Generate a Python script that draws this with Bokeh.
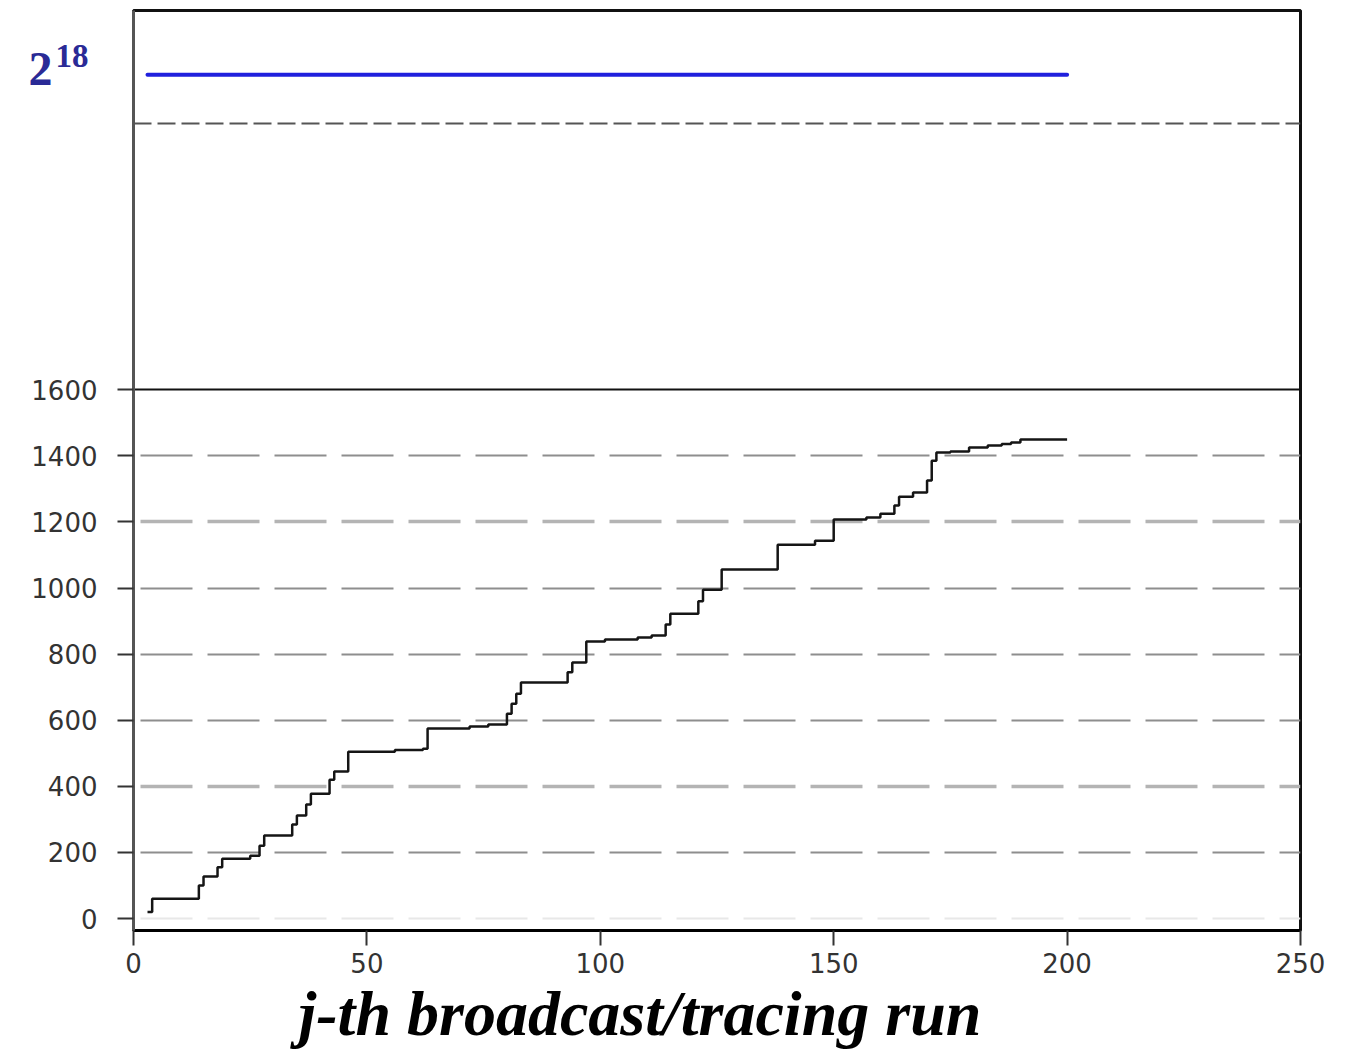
import math
from bokeh.plotting import figure
from bokeh.models import Range1d, FixedTicker, Grid, Title, LinearAxis
from bokeh.embed import file_html
from bokeh.resources import INLINE

# ---------------- data ----------------
# j-th broadcast/tracing run (step change points) and cumulative value
runs = [3, 4, 14, 15, 18, 19, 25, 27, 28, 34, 35, 37, 38, 42, 43, 46, 56, 62, 63,
        72, 76, 80, 81, 82, 83, 93, 94, 97, 101, 108, 111, 114, 115, 121, 122,
        126, 138, 146, 150, 157, 160, 163, 164, 167, 170, 171, 172, 175, 179,
        183, 186, 188, 190, 200]
values = [20, 60, 100, 127, 155, 181, 190, 220, 251, 285, 312, 345, 378, 420, 445,
          505, 510, 514, 575, 581, 587, 620, 650, 680, 714, 745, 775, 838, 844,
          850, 856, 890, 922, 960, 995, 1056, 1131, 1143, 1207, 1213, 1225, 1250,
          1276, 1289, 1325, 1385, 1410, 1413, 1425, 1431, 1436, 1440, 1449, 1449]

# upper bound series (2^18), drawn in the broken upper band of the axis
bound_runs = [3, 200]
bound_values = [2 ** 18, 2 ** 18]

x_ticks = [0, 50, 100, 150, 200, 250]
y_ticks = [0, 200, 400, 600, 800, 1000, 1200, 1400, 1600]
bound_label_base = "2"
bound_label_exp = "18"
x_title = "j-th broadcast/tracing run"

# ---------------- broken y axis ----------------
BREAK = 1600
UNITS_PER_OCTAVE = 129.5      # compression of the band above the break
BREAK_MARK_POS = 2405         # dashed marker line in the upper band
Y0, Y1 = -36, 2747


def axis_pos(v):
    if v <= BREAK:
        return v
    return BREAK + (math.log2(v) - math.log2(BREAK)) * UNITS_PER_OCTAVE


bound_pos = [axis_pos(v) for v in bound_values]
top = int(round(bound_pos[0]))

p = figure(width=1340, height=1054,
           x_range=Range1d(0, 250), y_range=Range1d(Y0, Y1),
           output_backend="svg", toolbar_location=None,
           min_border_left=133, min_border_right=40,
           min_border_top=10, min_border_bottom=124)

p.background_fill_color = "white"
p.border_fill_color = "white"
p.outline_line_color = "#111111"
p.outline_line_width = 3

# grids
p.xgrid.visible = False
p.ygrid.ticker = FixedTicker(ticks=[200, 600, 800, 1000, 1400])
p.ygrid.grid_line_color = "#8e8e8e"
p.ygrid.grid_line_width = 2
p.ygrid.grid_line_dash = "52 15"
p.ygrid.grid_line_dash_offset = 60

g2 = Grid(dimension=1, ticker=FixedTicker(ticks=[400, 1200]),
          grid_line_color="#b4b4b4", grid_line_width=3.5,
          grid_line_dash="52 15", grid_line_dash_offset=60)
g0 = Grid(dimension=1, ticker=FixedTicker(ticks=[0]),
          grid_line_color="#e8e8e8", grid_line_width=2,
          grid_line_dash="52 15", grid_line_dash_offset=60)
g16 = Grid(dimension=1, ticker=FixedTicker(ticks=[BREAK]),
           grid_line_color="#111111", grid_line_width=2)
gb = Grid(dimension=1, ticker=FixedTicker(ticks=[BREAK_MARK_POS]),
          grid_line_color="#555555", grid_line_width=2,
          grid_line_dash="18 6")
for g in (g2, g0, g16, gb):
    p.add_layout(g)

# axes
p.yaxis.ticker = FixedTicker(ticks=y_ticks)
p.xaxis.ticker = FixedTicker(ticks=x_ticks)
for ax in (p.xaxis, p.yaxis):
    ax.major_tick_in = 0
    ax.minor_tick_line_color = None
    ax.major_tick_line_color = "#333333"
    ax.major_tick_line_width = 2
    ax.major_label_text_font = "DejaVu Sans"
    ax.major_label_text_font_size = "26px"
    ax.major_label_text_color = "#333333"
p.yaxis.major_tick_out = 16
p.yaxis.major_label_standoff = 20
p.yaxis.axis_line_color = "#555555"
p.yaxis.axis_line_width = 3
p.xaxis.major_tick_out = 15
p.xaxis.major_label_standoff = 7
p.xaxis.axis_line_color = "#000000"
p.xaxis.axis_line_width = 3

# label of the upper band: "2" with superscript "18", as two extra left axes
pos_base = top + 18
pos_exp = top + 57
for txt, pos, size, standoff in ((bound_label_base, pos_base, "48px", -24),
                                 (bound_label_exp, pos_exp, "33px", -63)):
    ax = LinearAxis(ticker=FixedTicker(ticks=[pos]),
                    major_label_overrides={pos: txt},
                    axis_line_color=None, major_tick_line_color=None,
                    minor_tick_line_color=None,
                    major_tick_in=0, major_tick_out=0,
                    major_label_standoff=standoff,
                    major_label_text_font="Liberation Serif",
                    major_label_text_font_style="bold",
                    major_label_text_font_size=size,
                    major_label_text_color="#2a2a96")
    p.add_layout(ax, "left")

# series
p.line(bound_runs, bound_pos, line_color="#2020dd", line_width=4, line_cap="round")
p.step(runs, values, mode="after", line_color="#151515", line_width=2.5)

# x axis title (offset left of frame centre as in the original)
p.add_layout(Title(text=x_title, align="left", offset=165, standoff=0,
                   text_font="Liberation Serif", text_font_size="64px",
                   text_font_style="bold italic", text_color="#000000"), "below")

open("out.html", "w").write(file_html(p, INLINE))
